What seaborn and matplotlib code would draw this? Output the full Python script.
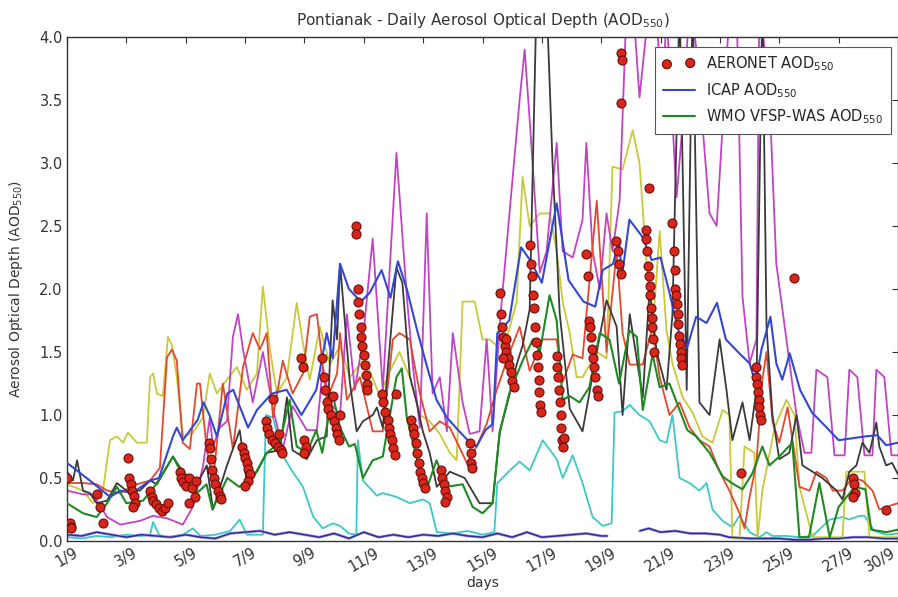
import numpy as np
import pandas as pd
import matplotlib
matplotlib.use("Agg")
import matplotlib.pyplot as plt
import seaborn as sns

# ---------------- data (day offset from 1/9, AOD550) ----------------
tick_days = [0, 2, 4, 6, 8, 10, 12, 14, 16, 18, 20, 22, 24, 26, 28]
tick_labels = ["1/9", "3/9", "5/9", "7/9", "9/9", "11/9", "13/9", "15/9", "17/9",
               "19/9", "21/9", "23/9", "25/9", "27/9", "30/9"]

icap_days = [0, 0.77, 1.45, 1.8, 2.2, 2.8, 3.1, 3.57, 3.7, 3.9, 4.4, 4.6, 4.8, 5.05, 5.4,
             5.6, 6.1, 6.4, 6.9, 7.4, 7.6, 7.9, 8.4, 8.75, 8.95, 9.2, 9.5, 9.9, 10.2, 10.6,
             10.9, 11.15, 11.45, 11.8, 12.1, 12.45, 12.8, 13.1, 13.5, 13.8, 14.1, 14.35, 14.5,
             14.9, 15.3, 15.6, 16.0, 16.5, 16.9, 17.4, 17.8, 18.05, 18.4, 18.6, 18.7, 18.95,
             19.4, 19.7, 20.0, 20.3, 20.6, 20.9, 21.2, 21.55, 21.9, 22.2, 22.65, 23.0, 23.2,
             23.4, 23.7, 23.9, 24.1, 24.35, 24.7, 25.1, 25.6, 26.0, 26.9, 27.3, 27.6, 28]
icap_aod = [0.62, 0.48, 0.35, 0.40, 0.38, 0.48, 0.50, 0.83, 0.90, 0.80, 0.96, 1.10, 1.00, 0.83,
            1.17, 1.20, 0.90, 1.04, 1.17, 1.20, 1.12, 1.00, 1.20, 1.65, 1.45, 2.20, 2.00, 1.90,
            1.97, 2.15, 1.93, 2.22, 2.00, 1.67, 1.41, 1.12, 0.98, 0.90, 0.80, 0.75, 0.88, 0.93,
            1.65, 1.75, 2.33, 2.23, 2.05, 2.68, 2.07, 1.90, 1.86, 2.15, 2.20, 2.39, 2.10, 2.55,
            2.41, 2.23, 2.25, 1.97, 1.67, 1.54, 1.78, 1.73, 1.89, 1.60, 1.49, 1.41, 1.25, 1.52,
            1.78, 1.41, 1.28, 1.49, 1.20, 1.02, 0.90, 0.80, 0.83, 0.84, 0.76, 0.78]

wmo_days = [0, 0.54, 1.0, 1.35, 1.68, 2.0, 2.56, 3.0, 3.57, 3.9, 4.38, 4.7, 4.9, 5.4, 5.8,
            6.26, 6.73, 7.17, 7.5, 7.74, 8.08, 8.4, 8.6, 8.95, 9.2, 9.5, 9.7, 9.97, 10.3, 10.64,
            11.1, 11.28, 11.45, 11.8, 12.1, 12.45, 12.8, 13.33, 13.67, 14.0, 14.34, 14.58, 14.9,
            15.35, 15.7, 15.93, 16.26, 16.5, 16.7, 16.94, 17.27, 17.6, 17.95, 18.28, 18.6, 18.95,
            19.2, 19.4, 19.73, 19.97, 20.3, 20.9, 21.2, 21.65, 22.1, 22.4, 22.76, 23.1, 23.43,
            23.67, 24.0, 24.44, 24.68, 25.0, 25.35, 25.7, 26.0, 26.2, 26.55, 26.9, 27.1, 27.6, 28]
wmo_aod = [0.30, 0.22, 0.19, 0.30, 0.43, 0.30, 0.32, 0.45, 0.67, 0.52, 0.38, 0.45, 0.25, 0.50,
           0.43, 0.50, 0.70, 0.78, 1.12, 0.75, 0.70, 0.88, 0.70, 1.17, 0.90, 0.75, 0.77, 0.50,
           0.64, 0.67, 1.30, 1.37, 0.98, 0.64, 0.40, 0.64, 0.43, 0.45, 0.27, 0.22, 0.30, 0.86,
           1.17, 1.43, 1.60, 1.50, 1.95, 1.75, 1.12, 1.15, 1.10, 1.22, 1.65, 1.60, 1.25, 1.67,
           1.62, 1.04, 1.48, 1.22, 1.25, 0.88, 0.83, 0.70, 0.51, 0.46, 0.41, 0.54, 0.75, 0.60,
           0.67, 0.78, 0.03, 0.03, 0.46, 0.03, 0.27, 0.33, 0.43, 0.41, 0.09, 0.07, 0.09]

red_days = [0, 0.54, 1.0, 1.35, 1.8, 2.2, 2.8, 3.13, 3.37, 3.54, 3.7, 3.9, 4.14, 4.38, 4.48,
            4.71, 4.92, 5.25, 5.59, 5.93, 6.26, 6.5, 6.73, 6.94, 7.27, 7.6, 7.95, 8.18, 8.42,
            8.75, 9.1, 9.2, 9.43, 9.87, 10.3, 10.64, 10.98, 11.2, 11.55, 11.89, 12.22, 12.56,
            12.9, 13.23, 13.47, 13.8, 14.14, 14.48, 14.92, 15.25, 15.59, 16.03, 16.5, 16.7,
            17.04, 17.37, 17.85, 18.18, 18.52, 18.72, 18.96, 19.4, 19.73, 19.97, 20.3, 20.64,
            20.98, 21.31, 21.65, 21.99, 22.32, 22.66, 22.83, 23.0, 23.23, 23.43, 23.57, 23.77,
            24.0, 24.28, 24.68, 25.02, 25.25, 25.59, 25.8, 26.13, 26.46, 26.8, 27.14, 27.37,
            27.6, 28.0]
red_aod = [0.46, 0.46, 0.45, 0.40, 0.38, 0.44, 0.48, 0.58, 1.46, 1.52, 1.43, 0.78, 0.73, 1.25,
           1.25, 0.73, 0.47, 1.25, 0.73, 1.38, 1.65, 1.52, 1.65, 0.98, 1.43, 1.17, 1.33, 1.78,
           1.80, 1.12, 1.33, 1.65, 1.12, 1.30, 0.87, 0.87, 1.60, 1.65, 1.60, 1.17, 0.87, 0.95,
           0.90, 0.74, 0.62, 0.75, 0.93, 1.20, 1.50, 1.70, 1.35, 1.60, 1.60, 1.26, 1.48, 1.45,
           2.70, 1.50, 2.30, 1.65, 1.40, 1.40, 1.70, 1.30, 1.00, 1.10, 0.90, 0.80, 0.75, 0.55,
           0.40, 0.22, 0.10, 0.35, 0.62, 1.28, 1.50, 0.95, 0.78, 1.06, 0.43, 0.40, 0.55, 0.50,
           0.40, 0.40, 0.50, 0.48, 0.40, 0.25, 0.27, 0.30]

yellow_days = [0, 0.54, 0.88, 1.21, 1.45, 1.68, 1.89, 2.05, 2.36, 2.69, 2.8, 2.9, 3.03, 3.23,
               3.4, 3.54, 3.7, 3.9, 4.24, 4.58, 4.81, 5.05, 5.39, 5.72, 6.06, 6.4, 6.6, 6.84,
               7.07, 7.41, 7.74, 7.95, 8.18, 8.52, 8.86, 9.2, 9.53, 10.03, 10.54, 10.88, 11.2,
               11.55, 11.89, 12.22, 12.56, 12.9, 13.13, 13.33, 13.74, 14.0, 14.24, 14.48, 14.81,
               15.15, 15.35, 15.59, 15.93, 16.26, 16.5, 16.7, 16.94, 17.17, 17.37, 17.85, 18.18,
               18.38, 18.72, 19.06, 19.29, 19.53, 19.73, 19.97, 20.2, 20.4, 20.74, 21.08, 21.41,
               21.75, 22.09, 22.32, 22.42, 22.66, 22.83, 23.16, 23.27, 23.43, 23.84, 24.24,
               24.51, 24.68, 25.12, 26.13, 26.26, 26.87, 27.04, 28]
yellow_aod = [0.45, 0.40, 0.30, 0.40, 0.80, 0.83, 0.78, 0.86, 0.78, 0.78, 1.30, 1.33, 1.17,
              1.15, 1.62, 1.55, 1.30, 0.83, 0.86, 0.98, 1.33, 1.17, 1.28, 1.38, 1.20, 1.33,
              2.02, 1.52, 1.17, 1.30, 1.89, 1.57, 1.28, 1.70, 1.40, 1.55, 1.30, 1.45, 1.15,
              1.35, 1.50, 1.30, 1.00, 0.95, 0.85, 0.70, 0.64, 1.90, 1.90, 1.60, 1.60, 1.55,
              1.60, 1.90, 2.89, 2.50, 2.60, 2.60, 2.30, 1.90, 1.65, 1.30, 1.30, 1.50, 1.45,
              2.97, 2.95, 3.26, 3.00, 2.20, 1.67, 2.46, 1.67, 1.41, 1.14, 1.02, 0.83, 0.78,
              1.04, 1.00, 0.02, 0.02, 0.75, 0.70, 0.02, 0.40, 0.90, 1.12, 1.00, 0.43, 0.03,
              0.03, 0.55, 0.55, 0.03, 0.03]

magenta_days = [0, 0.54, 0.88, 1.35, 1.8, 2.46, 2.9, 3.37, 3.9, 4.24, 4.58, 4.81, 4.92, 5.15,
                5.39, 5.59, 5.76, 5.93, 6.26, 6.6, 6.94, 7.27, 7.6, 8.08, 8.42, 8.62, 8.86, 9.2,
                9.43, 9.7, 9.97, 10.3, 10.64, 11.1, 11.45, 11.65, 11.89, 12.12, 12.32, 12.56,
                12.8, 13.0, 13.33, 13.57, 13.9, 14.14, 14.34, 14.58, 14.92, 15.25, 15.42, 15.59,
                15.93, 16.16, 16.5, 16.7, 17.04, 17.37, 17.5, 17.71, 17.95, 18.18, 18.38, 18.62,
                18.86, 19.06, 19.29, 19.63, 19.87, 20.07, 20.2, 20.54, 20.74, 20.98, 21.21,
                21.65, 21.89, 22.32, 22.56, 22.76, 23.0, 23.23, 23.33, 23.67, 23.9, 24.24,
                24.58, 24.85, 25.08, 25.25, 25.62, 25.86, 26.2, 26.36, 26.63, 26.87, 27.14,
                27.27, 27.54, 27.78, 28]
magenta_aod = [0.40, 0.37, 0.37, 0.19, 0.13, 0.16, 0.20, 0.18, 0.13, 0.27, 0.59, 0.98, 0.75,
               0.90, 0.95, 1.62, 1.80, 1.52, 1.10, 1.50, 1.05, 0.73, 1.07, 0.88, 0.88, 1.38,
               1.10, 1.00, 1.80, 1.20, 1.60, 2.40, 1.20, 3.08, 1.94, 1.40, 0.90, 2.60, 1.17,
               1.30, 0.87, 1.65, 1.10, 0.85, 0.87, 1.60, 0.87, 1.72, 2.63, 3.50, 3.90, 3.34,
               2.13, 2.30, 3.16, 2.30, 2.25, 2.55, 3.16, 2.30, 2.00, 2.60, 2.30, 2.70, 4.30,
               4.30, 3.52, 4.30, 4.10, 3.52, 4.20, 2.73, 3.30, 4.30, 3.90, 2.60, 2.50, 4.20,
               4.30, 1.94, 1.41, 1.60, 4.30, 3.52, 2.20, 1.60, 1.00, 0.70, 0.70, 1.36, 1.30,
               0.68, 0.68, 1.36, 1.30, 0.68, 0.68, 1.36, 1.30, 0.68, 0.68]

black_days = [0, 0.2, 0.34, 0.54, 0.77, 1.0, 1.35, 1.68, 2.0, 2.46, 2.8, 3.03, 3.57, 3.9,
              4.38, 4.71, 4.92, 5.39, 5.82, 6.06, 6.4, 6.73, 7.17, 7.41, 7.6, 8.08, 8.42, 8.75,
              8.95, 9.1, 9.2, 9.53, 9.76, 9.97, 10.3, 10.44, 10.64, 11.1, 11.3, 11.55, 11.78,
              11.99, 12.22, 12.46, 12.9, 13.4, 13.9, 14.34, 14.58, 14.92, 15.15, 15.35, 15.59,
              15.82, 16.16, 16.36, 16.6, 16.94, 17.37, 17.85, 18.18, 18.52, 18.72, 18.96, 19.4,
              19.63, 19.87, 20.2, 20.4, 20.64, 20.88, 21.08, 21.31, 21.65, 21.99, 22.22, 22.42,
              22.76, 23.0, 23.23, 23.43, 23.57, 23.77, 24.0, 24.34, 24.58, 24.78, 25.12, 25.45,
              25.93, 26.13, 26.36, 26.6, 26.8, 27.04, 27.27, 27.37, 27.6, 27.8, 28]
black_aod = [0.55, 0.48, 0.64, 0.40, 0.38, 0.30, 0.32, 0.46, 0.40, 0.40, 0.48, 0.45, 0.67,
             0.55, 0.45, 0.60, 0.25, 0.60, 0.88, 0.46, 0.55, 0.70, 0.72, 1.14, 0.72, 0.65,
             0.80, 0.83, 1.91, 1.60, 2.20, 1.26, 0.87, 0.95, 1.00, 1.06, 0.90, 2.17, 2.05,
             1.31, 1.10, 0.87, 0.70, 0.43, 0.55, 0.50, 0.30, 0.30, 0.87, 1.17, 1.40, 1.55,
             1.84, 4.30, 4.30, 3.00, 1.81, 1.05, 0.87, 1.50, 1.91, 1.70, 1.00, 1.80, 1.14,
             2.00, 1.50, 1.20, 1.80, 4.30, 1.20, 4.30, 1.10, 1.00, 1.60, 1.20, 0.80, 1.10,
             0.80, 1.20, 4.30, 1.70, 1.00, 0.65, 0.70, 1.00, 0.60, 0.55, 0.50, 0.40, 0.33,
             0.55, 0.60, 0.78, 0.70, 0.94, 0.75, 0.60, 0.62, 0.53]

cyan_days = [0, 0.5, 1.0, 1.5, 2.0, 2.5, 2.8, 2.9, 3.1, 3.37, 3.9, 4.24, 4.5, 5.0, 5.5, 5.82,
             6.06, 6.6, 6.7, 6.94, 7.27, 7.6, 7.95, 8.3, 8.62, 8.95, 9.2, 9.5, 9.75, 9.8, 9.97,
             10.44, 10.64, 11.1, 11.55, 12.0, 12.22, 12.46, 13.0, 13.5, 14.0, 14.4, 14.5, 14.92,
             15.25, 15.59, 16.03, 16.5, 16.7, 17.04, 17.37, 17.71, 18.05, 18.35, 18.45, 18.72,
             18.96, 19.29, 19.63, 19.97, 20.2, 20.4, 20.64, 20.98, 21.31, 21.55, 21.75, 22.09,
             22.42, 22.66, 23.0, 23.33, 23.57, 23.77, 24.24, 24.68, 25.12, 25.7, 26.13, 26.36,
             26.7, 26.87, 27.2, 27.6, 28]
cyan_aod = [0.03, 0.02, 0.04, 0.03, 0.05, 0.04, 0.05, 0.15, 0.05, 0.03, 0.05, 0.10, 0.04,
            0.05, 0.08, 0.17, 0.05, 0.05, 1.00, 0.98, 0.68, 0.55, 0.43, 0.19, 0.10, 0.14,
            0.12, 0.06, 0.05, 0.80, 0.48, 0.36, 0.38, 0.35, 0.30, 0.33, 0.30, 0.07, 0.06,
            0.08, 0.05, 0.07, 0.46, 0.56, 0.63, 0.56, 0.80, 0.65, 0.50, 0.68, 0.46, 0.19,
            0.12, 0.14, 1.02, 1.03, 1.08, 1.00, 0.95, 0.80, 0.78, 1.00, 0.50, 0.46, 0.40,
            0.46, 0.25, 0.16, 0.11, 0.20, 0.07, 0.03, 0.07, 0.04, 0.04, 0.03, 0.04, 0.17,
            0.19, 0.17, 0.20, 0.20, 0.08, 0.05, 0.06]

dblue_days_a = [0, 0.5, 1.0, 1.5, 2.0, 2.5, 3.0, 3.5, 4.0, 4.5, 5.0, 5.5, 6.0, 6.5, 7.0, 7.5,
                8.0, 8.5, 9.0, 9.5, 10.0, 10.5, 11.0, 11.5, 12.0, 12.5, 13.0, 13.5, 14.0, 14.5,
                15.0, 15.5, 16.0, 16.5, 17.0, 17.5, 18.0, 18.2]
dblue_aod_a = [0.05, 0.04, 0.07, 0.05, 0.03, 0.05, 0.04, 0.03, 0.05, 0.03, 0.02, 0.06, 0.07,
               0.08, 0.05, 0.07, 0.05, 0.03, 0.06, 0.02, 0.07, 0.03, 0.05, 0.03, 0.05, 0.04,
               0.06, 0.04, 0.03, 0.06, 0.03, 0.07, 0.03, 0.04, 0.05, 0.06, 0.04, 0.04]
dblue_days_b = [19.3, 19.6, 20.0, 20.5, 21.0, 21.5, 22.0, 22.3, 23.0, 23.5, 24.0, 24.5, 25.0,
                25.5, 26.0, 26.5, 27.0, 27.5, 28.0]
dblue_aod_b = [0.08, 0.10, 0.07, 0.08, 0.06, 0.06, 0.05, 0.03, 0.02, 0.02, 0.02, 0.01, 0.01,
               0.02, 0.02, 0.03, 0.03, 0.02, 0.02]

aeronet_day = [0.0, 0.1, 0.12, 0.14, 1.0, 1.1, 1.2,
               2.05, 2.1, 2.15, 2.2, 2.25, 2.3, 2.22,
               2.8, 2.85, 2.9, 3.0, 3.1, 3.2, 3.3, 3.4,
               3.8, 3.85, 3.9, 4.0, 4.1, 4.2, 4.3, 4.12, 4.35,
               4.8, 4.82, 4.85, 4.9, 4.95, 5.0, 5.1, 5.15, 5.2,
               5.9, 5.95, 6.0, 6.05, 6.1, 6.15, 6.1, 6.0,
               6.7, 6.75, 6.8, 6.9, 7.0, 7.1, 7.2, 7.25, 7.15, 6.95,
               7.9, 7.95, 8.0, 8.05, 8.0,
               8.6, 8.65, 8.7, 8.75, 8.8, 8.9, 9.0, 9.05, 9.1, 9.15, 8.95, 9.2,
               9.75, 9.75,
               9.8, 9.82, 9.85, 9.9, 9.92, 9.95, 10.0, 10.05, 10.08, 10.1, 10.12,
               10.6, 10.65, 10.7, 10.8, 10.85, 10.9, 10.95, 11.0, 11.05, 11.1,
               11.6, 11.65, 11.7, 11.75, 11.8, 11.85, 11.9, 11.95, 12.0, 12.05,
               12.6, 12.65, 12.7, 12.75, 12.8, 12.72,
               13.58, 13.6, 13.62, 13.65,
               14.6, 14.62, 14.65, 14.7, 14.75, 14.8, 14.85, 14.9, 14.95, 15.0, 15.05, 14.7, 14.8,
               15.6, 15.63, 15.66, 15.7, 15.73, 15.76, 15.8, 15.83, 15.86, 15.9, 15.92, 15.94, 15.96,
               16.5, 16.52, 16.55, 16.58, 16.6, 16.63, 16.65, 16.68, 16.7, 16.75,
               17.5, 17.55, 17.6, 17.62, 17.65, 17.7, 17.72, 17.75, 17.8, 17.85, 17.9,
               18.5, 18.55, 18.6, 18.65,
               18.65, 18.7, 18.68,
               19.6,
               19.5, 19.52, 19.55, 19.58, 19.6, 19.63, 19.65, 19.68, 19.7, 19.72, 19.75, 19.78,
               20.4, 20.45, 20.48, 20.52, 20.55, 20.58, 20.6, 20.63, 20.66, 20.68, 20.7, 20.72, 20.5,
               22.7,
               23.2, 23.22, 23.25, 23.28, 23.3, 23.33, 23.36, 23.38,
               24.5,
               26.5, 26.52, 26.55, 26.5,
               27.6]
aeronet_aod = [0.50, 0.14, 0.11, 0.10, 0.37, 0.27, 0.14,
               0.66, 0.50, 0.45, 0.40, 0.36, 0.30, 0.27,
               0.40, 0.35, 0.32, 0.29, 0.26, 0.24, 0.26, 0.30,
               0.55, 0.50, 0.47, 0.44, 0.50, 0.42, 0.35, 0.30, 0.48,
               0.78, 0.74, 0.65, 0.56, 0.50, 0.45, 0.40, 0.36, 0.33,
               0.75, 0.70, 0.66, 0.62, 0.57, 0.53, 0.48, 0.44,
               0.95, 0.90, 0.85, 0.80, 0.78, 0.75, 0.72, 0.70, 0.85, 1.13,
               1.45, 1.38, 0.80, 0.75, 0.70,
               1.45, 1.30, 1.20, 1.10, 1.05, 1.00, 0.95, 0.90, 0.85, 0.80, 1.15, 1.00,
               2.50, 2.44,
               2.00, 1.90, 1.80, 1.70, 1.62, 1.55, 1.48, 1.40, 1.32, 1.25, 1.20,
               1.17, 1.10, 1.02, 0.96, 0.90, 0.85, 0.80, 0.74, 0.68, 1.17,
               0.96, 0.90, 0.85, 0.78, 0.70, 0.62, 0.55, 0.50, 0.46, 0.42,
               0.56, 0.50, 0.45, 0.40, 0.35, 0.31,
               0.78, 0.70, 0.62, 0.58,
               1.97, 1.80, 1.70, 1.62, 1.55, 1.50, 1.45, 1.40, 1.34, 1.27, 1.22, 1.45, 1.60,
               2.35, 2.20, 2.10, 1.95, 1.85, 1.70, 1.58, 1.48, 1.38, 1.28, 1.18, 1.08, 1.02,
               1.47, 1.38, 1.30, 1.20, 1.10, 1.00, 0.90, 0.80, 0.75, 0.82,
               2.28, 2.10, 1.75, 1.70, 1.62, 1.52, 1.45, 1.38, 1.30, 1.20, 1.15,
               2.38, 2.30, 2.20, 2.12,
               3.87, 3.82, 3.48,
               2.80,
               2.47, 2.40, 2.30, 2.18, 2.10, 2.02, 1.95, 1.85, 1.77, 1.70, 1.60, 1.50,
               2.52, 2.30, 2.00, 1.95, 1.88, 1.80, 1.72, 1.63, 1.56, 1.50, 1.45, 1.40, 2.15,
               0.54,
               1.38, 1.30, 1.25, 1.18, 1.12, 1.06, 1.00, 0.96,
               2.09,
               0.50, 0.45, 0.38, 0.35,
               0.25]

# ---------------- figure ----------------
sns.set_style("white")
plt.rcParams["font.family"] = ["DejaVu Sans"]
plt.rcParams["axes.edgecolor"] = "#333333"

fig = plt.figure(figsize=(8.98, 5.97), dpi=100)
ax = fig.add_axes([67 / 898, 56 / 597, (898 - 67) / 898, (541 - 37) / 597])

def draw(days, vals, color, lw=1.3, label=None, z=2):
    df = pd.DataFrame({"day": days, "aod": vals})
    sns.lineplot(data=df, x="day", y="aod", color=color, linewidth=lw, ax=ax,
                 estimator=None, sort=False, label=label, legend=label is not None, zorder=z)

draw(cyan_days, cyan_aod, "#3cc8c8")
draw(dblue_days_a, dblue_aod_a, "#9a90e2", lw=2.0, z=2)
draw(dblue_days_b, dblue_aod_b, "#9a90e2", lw=2.0, z=2)
draw(dblue_days_a, dblue_aod_a, "#2c2c90", lw=1.0, z=2.1)
draw(dblue_days_b, dblue_aod_b, "#2c2c90", lw=1.0, z=2.1)
draw(yellow_days, yellow_aod, "#c9c93a")
draw(magenta_days, magenta_aod, "#c243c6")
draw(red_days, red_aod, "#e4462e")
draw(black_days, black_aod, "#3a3a3a")
draw(wmo_days, wmo_aod, "#1f8a22", lw=1.5, label="WMO VFSP-WAS AOD$_{550}$", z=3)
draw(icap_days, icap_aod, "#3347d4", lw=1.5, label="ICAP AOD$_{550}$", z=3.5)

aero = pd.DataFrame({"day": aeronet_day, "aod": aeronet_aod})
sns.scatterplot(data=aero, x="day", y="aod", color="#d8261a", edgecolor="#6a0c08",
                linewidth=0.8, s=42, ax=ax, zorder=5, label="AERONET AOD$_{550}$")

ax.set_xlim(0, 28)
ax.set_ylim(0, 4.0)
ax.set_xticks(tick_days)
ax.set_xticklabels(tick_labels, rotation=30, ha="center", fontsize=10.5, color="#333333")
last = ax.get_xticklabels()[-1]
last.set_horizontalalignment("right")
ax.set_yticks([0, 0.5, 1.0, 1.5, 2.0, 2.5, 3.0, 3.5, 4.0])
ax.set_yticklabels(["0.0", "0.5", "1.0", "1.5", "2.0", "2.5", "3.0", "3.5", "4.0"],
                   fontsize=10.5, color="#333333")
ax.tick_params(direction="in", top=True, right=True, length=4, width=0.8, color="#333333", pad=3)
for sp in ax.spines.values():
    sp.set_linewidth(1.0)
    sp.set_visible(True)

ax.set_xlabel("days", fontsize=10, color="#333333", labelpad=1)
ax.set_ylabel("Aerosol Optical Depth (AOD$_{550}$)", fontsize=10, color="#333333", labelpad=10)
ax.set_title("Pontianak - Daily Aerosol Optical Depth (AOD$_{550}$)", fontsize=11,
             color="#333333", pad=9)

handles, labels = ax.get_legend_handles_labels()
order = [labels.index("AERONET AOD$_{550}$"), labels.index("ICAP AOD$_{550}$"),
         labels.index("WMO VFSP-WAS AOD$_{550}$")]
leg = ax.legend([handles[i] for i in order], [labels[i] for i in order],
                loc="upper right", bbox_to_anchor=(1.0, 0.995), scatterpoints=2,
                fontsize=10.5, frameon=True, fancybox=False, framealpha=1.0,
                edgecolor="#555555", borderpad=0.5, handlelength=2.2, labelspacing=0.55)
leg.get_frame().set_linewidth(0.8)

fig.savefig("out.png", dpi=100)
